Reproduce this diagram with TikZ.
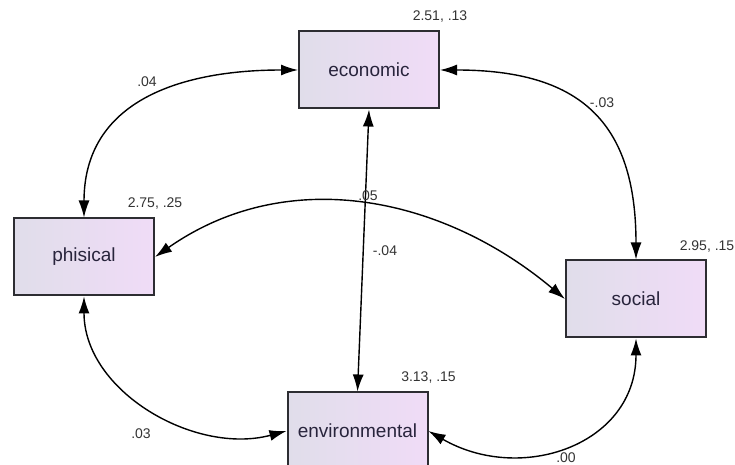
\documentclass[tikz,border=0pt]{standalone}
\usepackage{fontspec}
\setmainfont{Liberation Sans}
\usetikzlibrary{arrows.meta}
\definecolor{boxleft}{RGB}{224,221,234}
\definecolor{boxright}{RGB}{240,220,247}
\definecolor{boxedge}{RGB}{45,45,50}
\definecolor{inktext}{RGB}{40,36,60}

\begin{document}
\begin{tikzpicture}[x=1pt,y=1pt,>={Latex[length=17pt,width=11pt]},
  var/.style={draw=boxedge,line width=2pt,left color=boxleft,right color=boxright,
    minimum width=140pt,minimum height=77pt,inner sep=0pt,
    font=\fontsize{19}{19}\selectfont,text=inktext},
  est/.style={font=\fontsize{14}{14}\selectfont,text=black!80,inner sep=0pt},
  cov/.style={<->,line width=1.4pt}]
\useasboundingbox (0,0) rectangle (735,465);
\node[var] (eco) at (369,395) {economic};
\node[var] (phi) at (84,208) {phisical};
\node[var] (soc) at (636,166) {social};
\node[var] (env) at (357.5,34) {environmental};

\node[est] (veco) at ([yshift=14pt]eco.north east) {2.51, .13};
\node[est] (vphi) at ([yshift=14pt]phi.north east) {2.75, .25};
\node[est] (vsoc) at ([yshift=13pt]soc.north east) {2.95, .15};
\node[est] (venv) at ([yshift=14pt]env.north east) {3.13, .15};

\draw[cov] (eco.west) to[out=180,in=90,looseness=1.15] (phi.north);
\draw[cov] (eco.east) to[out=0,in=90,looseness=1.3] (soc.north);
\draw[cov] (eco.south) -- (env.north);
\draw[cov] (phi.east) to[out=35,in=140] (soc.west);
\draw[cov] (phi.south) to[out=-90,in=195] (env.west);
\draw[cov] (env.east) to[out=-30,in=-90,looseness=1.2] (soc.south);

\node[est] (cep) at (147,383) {.04};
\node[est] (ces) at (602,362) {-.03};
\node[est] (cps) at (368,269) {.05};
\node[est] (cee) at (385,214) {-.04};
\node[est] (cpe) at (141,31) {.03};
\node[est] (cse) at (566,7) {.00};
\end{tikzpicture}
\end{document}
